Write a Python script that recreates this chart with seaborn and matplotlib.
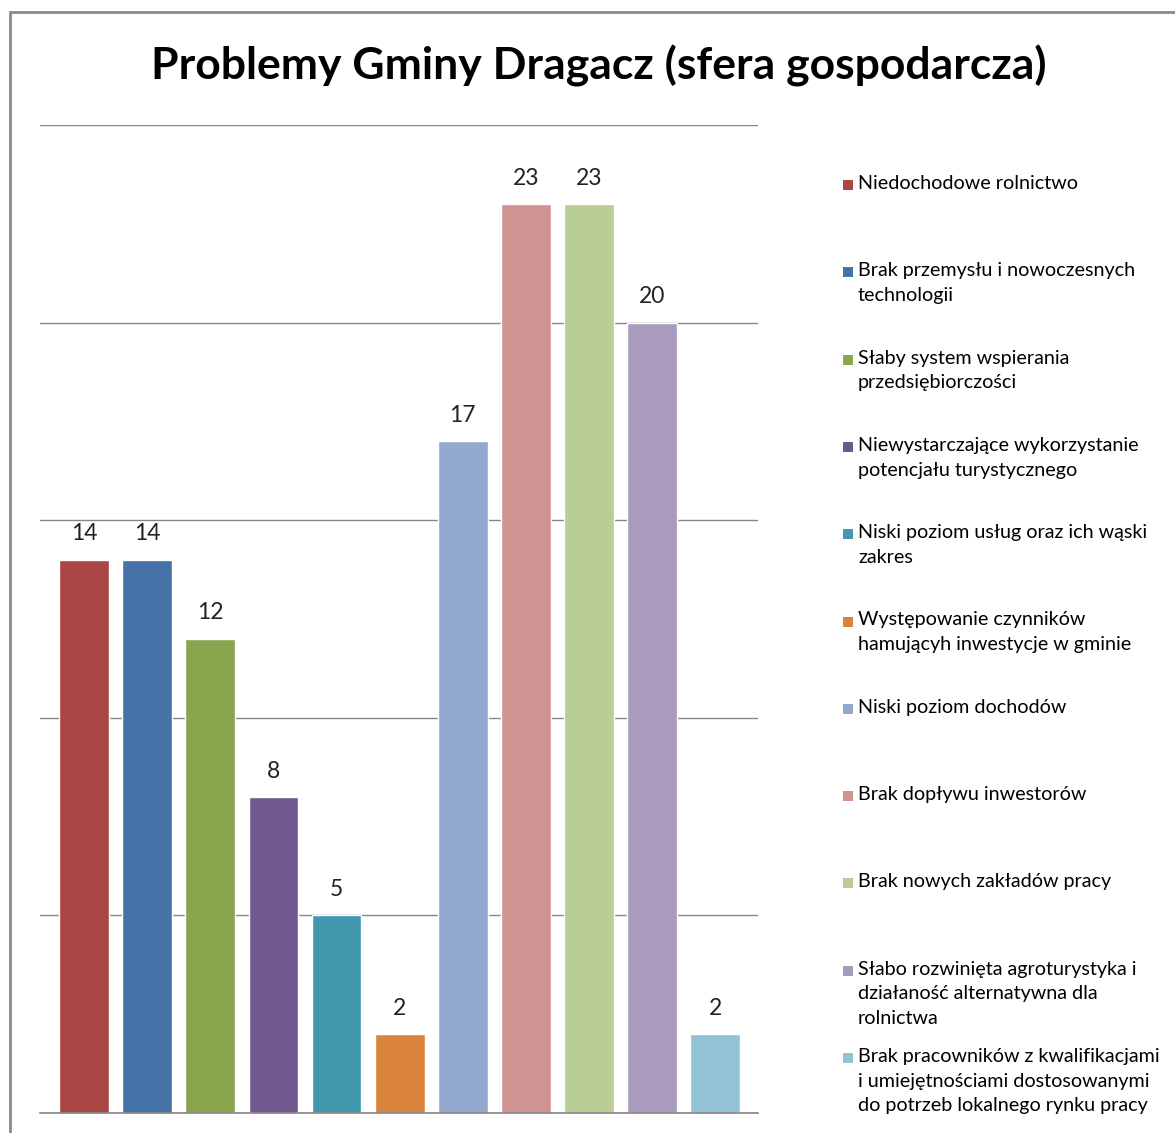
import matplotlib
matplotlib.use('Agg')
import matplotlib.pyplot as plt
import seaborn as sns
import pandas as pd
from matplotlib.patches import Rectangle

# Problemy Gminy Dragacz - sfera gospodarcza
categories = [
    'Niedochodowe rolnictwo',
    'Brak przemysłu i nowoczesnych\ntechnologii',
    'Słaby system wspierania\nprzedsiębiorczości',
    'Niewystarczające wykorzystanie\npotencjału turystycznego',
    'Niski poziom usług oraz ich wąski\nzakres',
    'Występowanie czynników\nhamującyh inwestycje w gminie',
    'Niski poziom dochodów',
    'Brak dopływu inwestorów',
    'Brak nowych zakładów pracy',
    'Słabo rozwinięta agroturystyka i\ndziałaność alternatywna dla\nrolnictwa',
    'Brak pracowników z kwalifikacjami\ni umiejętnościami dostosowanymi\ndo potrzeb lokalnego rynku pracy',
]
values = [14, 14, 12, 8, 5, 2, 17, 23, 23, 20, 2]
colors = ['#AA4643', '#4572A7', '#89A54E', '#71588F', '#4198AF', '#DB843D',
          '#93A9CF', '#D19392', '#B9CD96', '#A99BBD', '#92C3D4']

df = pd.DataFrame({'problem': categories, 'count': values})

sns.set_style('white')
plt.rcParams['font.family'] = ['Lato', 'DejaVu Sans']

W, H = 1175, 1133
fig = plt.figure(figsize=(W / 100, H / 100), dpi=100)

# outer chart frame (cut off on the right and bottom)
fig.patches.append(Rectangle((10 / W, -0.05), 1.2, 1.05 - 12 / H, transform=fig.transFigure,
                             fill=False, edgecolor='#8a8a8a', linewidth=2))

ax = fig.add_axes([40 / W, 1 - 1113 / H, (758 - 40) / W, (1113 - 125) / H])
sns.barplot(data=df, x='problem', y='count', hue='problem', palette=colors,
            legend=False, width=0.79, ax=ax, saturation=1)
ax.set_ylim(0, 25)
ax.set_xlim(-0.7, len(values) - 0.32)
ax.set_yticks([0, 5, 10, 15, 20, 25])
ax.yaxis.grid(True, color='#868686', linewidth=1)
ax.set_axisbelow(True)
ax.set_xticks([])
ax.set_yticklabels([])
ax.tick_params(left=False, bottom=False)
ax.set_xlabel('')
ax.set_ylabel('')
for side in ['left', 'right', 'top']:
    ax.spines[side].set_visible(False)
ax.spines['bottom'].set_color('#868686')
ax.spines['bottom'].set_linewidth(1.2)

for cont in ax.containers:
    ax.bar_label(cont, padding=11, fontsize=16.5, color='#222222')

fig.text(599 / W, 1 - 66 / H, 'Problemy Gminy Dragacz (sfera gospodarcza)',
         ha='center', va='center', fontsize=32, fontweight='bold', color='black')

# legend on the right, one entry every ~87 px
for i, (lab, col) in enumerate(zip(categories, colors)):
    y = 185 + i * 87.3
    fig.patches.append(Rectangle((843 / W, 1 - (y + 5) / H), 10 / W, 10 / H,
                                 transform=fig.transFigure, facecolor=col, edgecolor='none'))
    fig.text(858 / W, 1 - (y - 10) / H, lab, ha='left', va='top', fontsize=14.2,
             color='black', linespacing=1.55)

fig.savefig('out.png', dpi=100, facecolor='white')
